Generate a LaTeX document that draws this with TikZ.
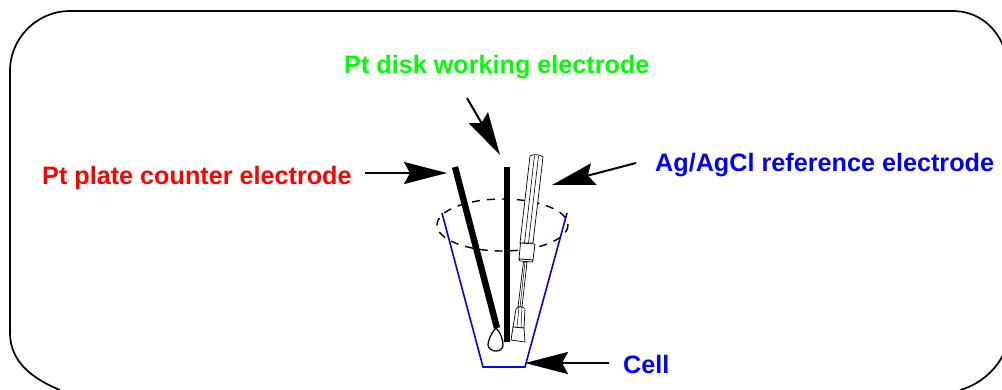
\documentclass[tikz,border=0pt]{standalone}
\usepackage{fontspec}
\setmainfont{Liberation Sans}
\usetikzlibrary{arrows.meta}
\tikzset{
 lbl/.style={font=\bfseries\fontsize{25.2}{28}\selectfont,anchor=base west,inner sep=0pt},
 pointer/.style={draw=black,line width=2pt,-{Stealth[length=43pt,width=22pt,inset=6pt]}},
 thin part/.style={draw=black,line width=.7pt,fill=white},
 rod/.style={draw=black,line width=6.4pt}
}
\begin{document}
\begin{tikzpicture}[x=1pt,y=-1pt]
\useasboundingbox (0,0) rectangle (1002,389);
\draw[line width=1.7pt] (60,390) .. controls (33,379) and (10,362) .. (10,333) -- (10,71) .. controls (10,38) and (37,11) .. (70,11) -- (953,11) .. controls (975,11) and (995,24) .. (1004,48);
\draw[line width=1.7pt] (960,390) .. controls (978,385) and (995,372) .. (1004,353);
\node[lbl] (wl) at (344,73) {\textcolor[rgb]{0,1,0}{Pt disk working electrode}};
\node[lbl] (cl) at (42,184) {\textcolor{red}{Pt plate counter electrode}};
\node[lbl] (rl) at (655,171) {\textcolor{blue}{Ag/AgCl reference electrode}};
\node[lbl] (ll) at (623,373) {\textcolor{blue}{Cell}};
\coordinate (a1) at (467,98); \coordinate (a2) at (500,155);
\coordinate (b1) at (365,173); \coordinate (b2) at (447,173);
\coordinate (c1) at (636,163); \coordinate (c2) at (552,185);
\coordinate (d1) at (609,363); \coordinate (d2) at (525,363);
\draw[pointer] (a1) -- (a2);
\draw[pointer] (b1) -- (b2);
\draw[pointer] (c1) -- (c2);
\draw[pointer] (d1) -- (d2);
% cell
\draw[blue,line width=1.6pt] (442,213) -- (483,367) -- (525,367) -- (567,213);
\draw[line width=1.4pt,dash pattern=on 8pt off 7pt] (502.5,225) ellipse[x radius=65.5,y radius=26];
% counter electrode
\draw[rod] (455,167) -- (497,328);
\draw[line width=1.3pt,fill=white] (496,328) .. controls (491,333) and (488,341) .. (488,345) .. controls (489,353) and (503,353) .. (503,345) .. controls (503,340) and (501,333) .. (496,328);
% working electrode
\draw[rod] (507,167) -- (507,342);
% reference electrode
\draw[thin part] (530,156) .. controls (533,154) and (540,154) .. (543,157) -- (533,243) -- (520,243) -- cycle;
\draw[line width=.6pt] (534.5,155.5) -- (524.5,243) (538.5,156) -- (528.5,243);
\draw[thin part] (520.5,243) -- (535,244) -- (533,260) -- (519,259) -- cycle;
\draw[thin part] (519,259) -- (533,260) -- (532,262) -- (520,261) -- cycle;
\draw[thin part] (523.5,262) -- (527,262) -- (522,307) -- (518,307) -- cycle;
\draw[line width=.5pt] (525,262) -- (520,307);
\draw[thin part] (516,309) .. controls (517,306) and (524,306) .. (525,309) -- (524,328) -- (513,327) -- cycle;
\draw[line width=.5pt] (519,307) -- (517,327) (522,307) -- (521,327);
\draw[thin part] (513,327) -- (524,328) -- (525,342) -- (511,340) -- cycle;
\end{tikzpicture}
\end{document}
